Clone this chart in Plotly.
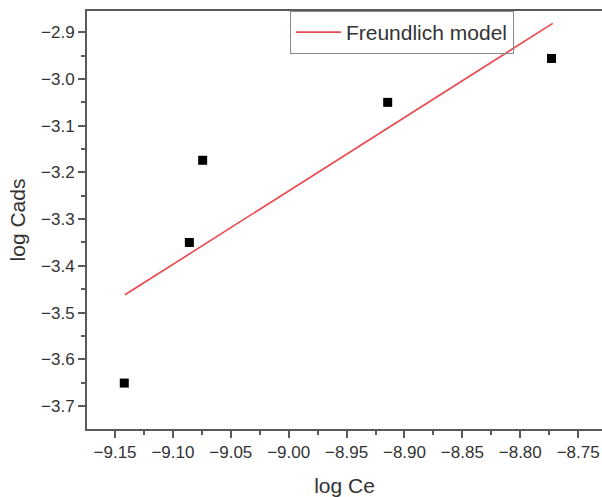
import plotly.graph_objects as go

# Experimental points (log Ce, log Cads)
log_ce = [-9.142, -9.0858, -9.0743, -8.9145, -8.773]
log_cads = [-3.651, -3.350, -3.174, -3.050, -2.956]

# Freundlich model fit line endpoints
fit_x = [-9.1414, -8.772]
fit_y = [-3.462, -2.881]

x_tickvals = [-9.15, -9.10, -9.05, -9.00, -8.95, -8.90, -8.85, -8.80, -8.75]
x_ticktext = ["\u22129.15", "\u22129.10", "\u22129.05", "\u22129.00", "\u22128.95",
              "\u22128.90", "\u22128.85", "\u22128.80", "\u22128.75"]
y_tickvals = [-2.9, -3.0, -3.1, -3.2, -3.3, -3.4, -3.5, -3.6, -3.7]
y_ticktext = ["\u22122.9", "\u22123.0", "\u22123.1", "\u22123.2", "\u22123.3",
              "\u22123.4", "\u22123.5", "\u22123.6", "\u22123.7"]

fig = go.Figure()
fig.add_trace(go.Scatter(
    x=log_ce, y=log_cads, mode="markers",
    marker=dict(symbol="square", size=9, color="black"),
    showlegend=False, name="data"))
fig.add_trace(go.Scatter(
    x=fit_x, y=fit_y, mode="lines",
    line=dict(color="#e8474c", width=1.6),
    name="Freundlich model"))

axis_color = "#5a5a5a"
font_family = "Liberation Sans, Arial, sans-serif"

fig.update_layout(
    width=602, height=497,
    template="none",
    paper_bgcolor="white", plot_bgcolor="white",
    margin=dict(l=87, r=0, t=11, b=68),
    font=dict(family=font_family, color="#333333", size=17),
    showlegend=True,
    legend=dict(
        x=0.394, y=1.0, xanchor="left", yanchor="top",
        bgcolor="rgba(255,255,255,0)", bordercolor="#8a8a8a", borderwidth=1,
        font=dict(size=21, color="#333333"),
        itemwidth=45,
    ),
    xaxis=dict(
        range=[-9.1742, -8.7294],
        tickmode="array", tickvals=x_tickvals, ticktext=x_ticktext,
        ticks="outside", ticklen=7, tickwidth=1.5, tickcolor=axis_color,
        showline=True, linecolor=axis_color, linewidth=2, mirror=True,
        showgrid=False, zeroline=False, automargin=False,
        minor=dict(ticks="outside", ticklen=4, tickwidth=1.5, tickcolor=axis_color,
                   dtick=0.025, tick0=-9.15, showgrid=False),
        tickfont=dict(size=17, color="#333333"),
        title=dict(text="log Ce", font=dict(size=21, color="#333333"), standoff=17),
    ),
    yaxis=dict(
        range=[-3.7493, -2.8544],
        tickmode="array", tickvals=y_tickvals, ticktext=y_ticktext,
        ticks="outside", ticklen=7, tickwidth=1.5, tickcolor=axis_color,
        showline=True, linecolor=axis_color, linewidth=2, mirror=False,
        showgrid=False, zeroline=False, automargin=False,
        minor=dict(ticks="outside", ticklen=4, tickwidth=1.5, tickcolor=axis_color,
                   dtick=0.05, tick0=-2.9, showgrid=False),
        tickfont=dict(size=17, color="#333333"),
        title=dict(text="log Cads", font=dict(size=21, color="#333333"), standoff=10),
    ),
)

fig.write_html("out.html")
